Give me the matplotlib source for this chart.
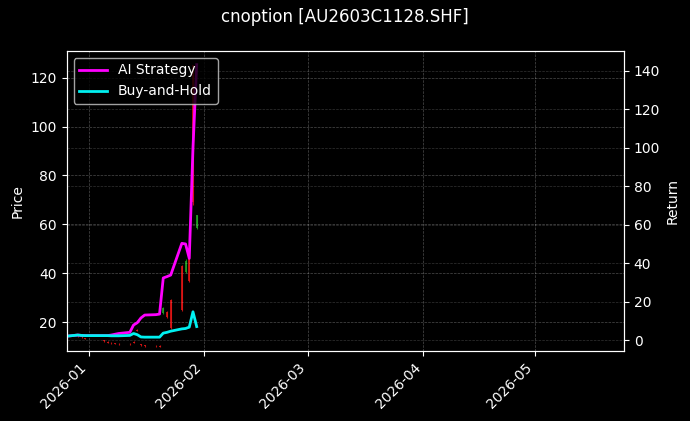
#!/usr/bin/env python3
# -*- coding: utf-8 -*-
"""cnoption AU2603C1128.SHF: K线 + 策略收益 vs 买入持有"""
from datetime import datetime

import matplotlib
matplotlib.use("Agg")
import matplotlib.dates as mdates
import matplotlib.pyplot as plt
import pandas as pd

# 交易日
dates = pd.to_datetime([
    "2025-12-26", "2025-12-29", "2025-12-30", "2025-12-31",
    "2026-01-05", "2026-01-06", "2026-01-07", "2026-01-08", "2026-01-09",
    "2026-01-12", "2026-01-13", "2026-01-14", "2026-01-15", "2026-01-16",
    "2026-01-19", "2026-01-20", "2026-01-21", "2026-01-22", "2026-01-23",
    "2026-01-26", "2026-01-27", "2026-01-28", "2026-01-29", "2026-01-30",
])

# OHLC
opens = [15.0, 14.6, 14.2, 13.5, 12.5, 12.0, 11.6, 11.4, 11.2, 11.2, 12.0, 16.8,
         11.0, 10.5, 10.4, 10.3, 23.7, 24.0, 29.0, 43.0, 40.5, 47.0, 125.0, 58.4]
highs = [15.3, 14.8, 14.4, 13.7, 12.7, 12.2, 11.8, 11.6, 11.4, 11.4, 12.3, 17.0,
         11.2, 10.7, 10.6, 10.5, 26.0, 24.5, 29.5, 43.5, 46.0, 48.0, 125.3, 64.0]
lows = [14.4, 14.0, 13.7, 13.0, 12.0, 11.4, 11.1, 11.0, 10.8, 10.8, 11.3, 16.3,
        10.3, 10.0, 9.9, 9.8, 23.5, 21.5, 17.3, 24.5, 40.0, 36.5, 68.0, 58.0]
closes = [14.6, 14.2, 13.9, 13.2, 12.2, 11.6, 11.3, 11.2, 11.0, 11.0, 11.5, 16.5,
          10.5, 10.2, 10.1, 10.0, 25.7, 22.0, 17.6, 25.0, 45.0, 37.0, 69.0, 63.7]

# 收益
strategy_ret = [2.0, 2.6, 2.4, 2.3, 2.3, 2.3, 2.6, 3.0, 3.4, 4.0, 7.8, 9.0,
                11.5, 13.0, 13.2, 13.5, 32.3, 33.0, 33.8, 50.3, 50.0, 42.5, 100.0, 143.3]
buyhold_ret = [2.0, 2.6, 2.4, 2.3, 2.3, 2.3, 2.2, 2.2, 2.2, 2.4, 3.4, 2.8,
               1.6, 1.5, 1.5, 1.5, 3.6, 4.0, 4.6, 5.8, 6.0, 6.7, 14.7, 7.0]

plt.style.use("dark_background")
fig, ax = plt.subplots(figsize=(6.9, 4.21), dpi=100)
fig.subplots_adjust(left=0.0966, right=0.9043, bottom=0.1663, top=0.8789)

# K线
for d, o, h, l, c in zip(dates, opens, highs, lows, closes):
    col = "#e01515" if c < o else "#22a022"
    ax.vlines(d, l, h, color=col, linewidth=0.8, alpha=0.85)
    ax.bar(d, abs(c - o), bottom=min(o, c), width=0.55, color=col, alpha=0.85)

ax.set_ylabel("Price")
ax.set_ylim(8.2, 130.9)
ax.grid(True, linestyle="--", linewidth=0.5, alpha=0.3)

ax2 = ax.twinx()
ax2.plot(dates, strategy_ret, color="#ff00ff", linewidth=2, label="AI Strategy")
ax2.plot(dates, buyhold_ret, color="#00f0f0", linewidth=2, label="Buy-and-Hold")
ax2.set_ylabel("Return")
ax2.set_ylim(-5.7, 150.4)
ax2.grid(True, linestyle="--", linewidth=0.5, alpha=0.2)
ax2.legend(loc="upper left")

ax.set_xlim(datetime(2025, 12, 26), datetime(2026, 5, 25))
ax.xaxis.set_major_locator(mdates.MonthLocator())
ax.xaxis.set_major_formatter(mdates.DateFormatter("%Y-%m"))
plt.setp(ax.get_xticklabels(), rotation=45, ha="right")

fig.suptitle("cnoption [AU2603C1128.SHF]")
fig.savefig("out.png", dpi=100)
